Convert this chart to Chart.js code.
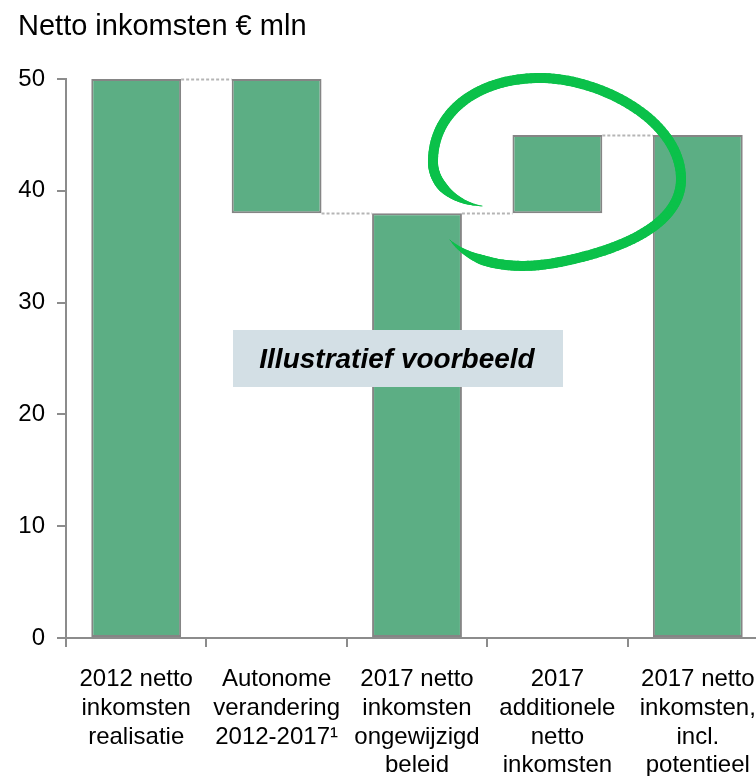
<!DOCTYPE html>
<html>
<head>
<meta charset="utf-8">
<script src="https://cdn.jsdelivr.net/npm/chart.js@4.4.1/dist/chart.umd.min.js"></script>
<style>
  body { margin: 0; background: #fff; }
  #wrap { width: 756px; height: 776px; overflow: hidden; }
</style>
</head>
<body>
<div id="wrap"><canvas id="chart" width="790" height="776"></canvas></div>
<script>
// Chart data
const categories = [
  ['2012 netto', 'inkomsten', 'realisatie'],
  ['Autonome', 'verandering', '2012-2017\u00B9'],
  ['2017 netto', 'inkomsten', 'ongewijzigd', 'beleid'],
  ['2017', 'additionele', 'netto', 'inkomsten'],
  ['2017 netto', 'inkomsten,', 'incl.', 'potentieel']
];
const barLow = [0, 38, 0, 38, 0];
const barHigh = [50, 50, 38, 45, 45];
const connectorLevels = [50, 38, 38, 45];
const yTicks = [0, 10, 20, 30, 40, 50];

const FONT = "'Liberation Sans', Arial, sans-serif";
const AXIS_GREY = '#8c8c8c';

// Title in the top left corner
const titlePlugin = {
  id: 'titleText',
  afterDraw(chart) {
    const ctx = chart.ctx;
    ctx.save();
    ctx.font = '29px ' + FONT;
    ctx.fillStyle = '#000';
    ctx.textBaseline = 'alphabetic';
    ctx.fillText('Netto inkomsten \u20AC mln', 18, 35);
    ctx.restore();
  }
};

// Dotted lines linking the waterfall steps
const connectorPlugin = {
  id: 'connectors',
  afterDatasetsDraw(chart) {
    const ctx = chart.ctx;
    const bars = chart.getDatasetMeta(0).data;
    const y = chart.scales.y;
    ctx.save();
    ctx.strokeStyle = '#b5b5b5';
    ctx.lineWidth = 2;
    ctx.setLineDash([3, 2]);
    connectorLevels.forEach((level, i) => {
      const a = bars[i], b = bars[i + 1];
      const py = Math.round(y.getPixelForValue(level)) + 0.5;
      ctx.beginPath();
      ctx.moveTo(a.x + a.width / 2, py);
      ctx.lineTo(b.x - b.width / 2, py);
      ctx.stroke();
    });
    ctx.restore();
  }
};

// Note box and the hand drawn green loop
const annotationPlugin = {
  id: 'annotations',
  afterDatasetsDraw(chart) {
    const ctx = chart.ctx;
    ctx.save();
    ctx.fillStyle = '#d3dfe5';
    ctx.fillRect(233, 330, 330, 57);
    ctx.font = 'italic bold 28px ' + FONT;
    ctx.fillStyle = '#000';
    ctx.textAlign = 'center';
    ctx.textBaseline = 'middle';
    ctx.fillText('Illustratief voorbeeld', 397, 360);

    // sample the loop path and stroke it with tapering ends
    const segs = [
      [[482, 206], [455, 203], [432, 185], [433, 160]],
      [[433, 160], [434, 110], [480, 78], [540, 78]],
      [[540, 78], [600, 78], [680, 120], [681, 178]],
      [[681, 178], [682, 225], [620, 250], [560, 262]],
      [[560, 262], [510, 272], [470, 262], [450, 240]]
    ];
    const pts = [];
    segs.forEach(s => {
      for (let k = 0; k <= 40; k++) {
        const t = k / 40, u = 1 - t;
        pts.push([
          u*u*u*s[0][0] + 3*u*u*t*s[1][0] + 3*u*t*t*s[2][0] + t*t*t*s[3][0],
          u*u*u*s[0][1] + 3*u*u*t*s[1][1] + 3*u*t*t*s[2][1] + t*t*t*s[3][1]
        ]);
      }
    });
    ctx.strokeStyle = '#0bc14a';
    ctx.lineCap = 'round';
    const n = pts.length;
    for (let i = 1; i < n; i++) {
      const t = i / n;
      const w = 10 * Math.min(1, t / 0.12, (1 - t) / 0.08);
      ctx.lineWidth = Math.max(1, w);
      ctx.beginPath();
      ctx.moveTo(pts[i - 1][0], pts[i - 1][1]);
      ctx.lineTo(pts[i][0], pts[i][1]);
      ctx.stroke();
    }
    ctx.restore();
  }
};

const ctx = document.getElementById('chart').getContext('2d');
const chart = new Chart(ctx, {
  type: 'bar',
  data: {
    labels: categories,
    datasets: [{
      data: barLow.map((lo, i) => [lo, barHigh[i]]),
      backgroundColor: '#5cae84',
      borderColor: '#858585',
      borderWidth: 2,
      borderSkipped: false,
      barPercentage: 0.64,
      categoryPercentage: 1
    }]
  },
  options: {
    responsive: false,
    animation: false,
    devicePixelRatio: 1,
    layout: { padding: { top: 79, right: 22, bottom: 0, left: 0 } },
    plugins: {
      legend: { display: false },
      tooltip: { enabled: false }
    },
    scales: {
      x: {
        afterFit: s => { s.height = 138; },
        grid: { drawOnChartArea: false, drawTicks: true, tickLength: 9, color: AXIS_GREY, lineWidth: 2, offset: true },
        border: { color: AXIS_GREY, width: 2 },
        ticks: {
          color: '#000',
          font: { family: FONT, size: 24, lineHeight: 1.2 },
          padding: 18,
          maxRotation: 0,
          autoSkip: false
        }
      },
      y: {
        min: 0,
        max: 50,
        afterFit: s => { s.width = 66; },
        afterBuildTicks: s => { s.ticks = yTicks.map(v => ({ value: v })); },
        grid: { drawOnChartArea: false, drawTicks: true, tickLength: 9, color: AXIS_GREY, lineWidth: 2 },
        border: { color: AXIS_GREY, width: 2 },
        ticks: {
          color: '#000',
          font: { family: FONT, size: 24 },
          padding: 12
        }
      }
    }
  },
  plugins: [titlePlugin, connectorPlugin, annotationPlugin]
});
</script>
</body>
</html>
